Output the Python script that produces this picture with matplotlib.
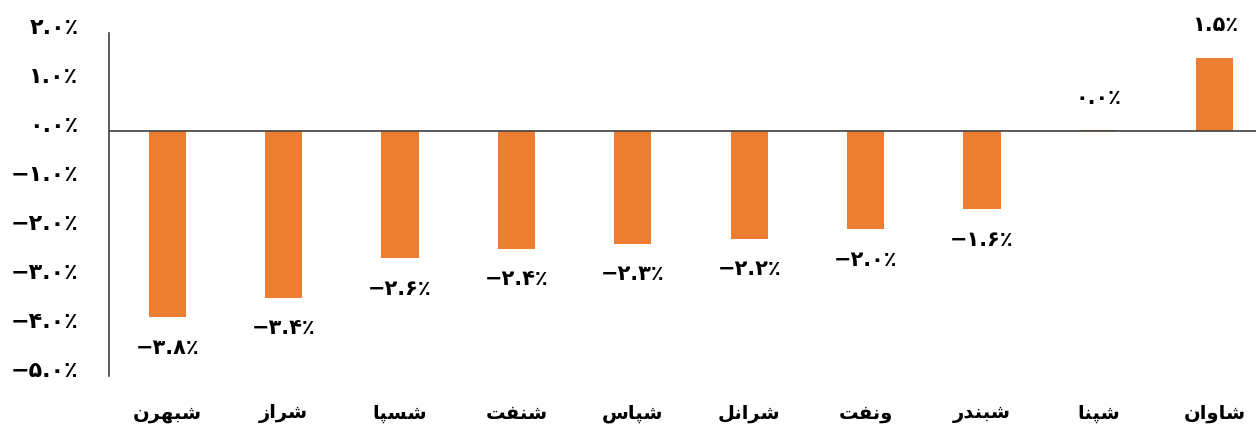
import numpy as np
import matplotlib
matplotlib.use('Agg')
import matplotlib.pyplot as plt
from matplotlib.transforms import ScaledTranslation

# data
names = ['شبهرن', 'شراز', 'شسپا', 'شنفت', 'شپاس', 'شرانل', 'ونفت', 'شبندر', 'شپنا', 'شاوان']
values = [-3.8, -3.4, -2.6, -2.4, -2.3, -2.2, -2.0, -1.6, 0.02, 1.5]
shown = [-3.8, -3.4, -2.6, -2.4, -2.3, -2.2, -2.0, -1.6, 0.0, 1.5]
yticks = [2, 1, 0, -1, -2, -3, -4, -5]

# presentation forms: isolated, final, initial, medial
forms = {
    'ا': ('\uFE8D', '\uFE8E'),
    'د': ('\uFEA9', '\uFEAA'),
    'ر': ('\uFEAD', '\uFEAE'),
    'ز': ('\uFEAF', '\uFEB0'),
    'و': ('\uFEED', '\uFEEE'),
    'ب': ('\uFE8F', '\uFE90', '\uFE91', '\uFE92'),
    'ت': ('\uFE95', '\uFE96', '\uFE97', '\uFE98'),
    'س': ('\uFEB1', '\uFEB2', '\uFEB3', '\uFEB4'),
    'ش': ('\uFEB5', '\uFEB6', '\uFEB7', '\uFEB8'),
    'ف': ('\uFED1', '\uFED2', '\uFED3', '\uFED4'),
    'ل': ('\uFEDD', '\uFEDE', '\uFEDF', '\uFEE0'),
    'ن': ('\uFEE5', '\uFEE6', '\uFEE7', '\uFEE8'),
    'ه': ('\uFEE9', '\uFEEA', '\uFEEB', '\uFEEC'),
    'پ': ('\uFB56', '\uFB57', '\uFB58', '\uFB59'),
}


def shape(word):
    out = []
    for i, c in enumerate(word):
        prev = word[i - 1] if i > 0 else None
        jp = prev is not None and len(forms[prev]) == 4
        jn = i < len(word) - 1 and len(forms[c]) == 4
        f = forms[c]
        if jp and jn:
            out.append(f[3])
        elif jp:
            out.append(f[1])
        elif jn:
            out.append(f[2])
        else:
            out.append(f[0])
    return ''.join(reversed(out))


fa_digits = '۰۱۲۳۴۵۶۷۸۹'


def fa_pct(v):
    s = '%.1f' % abs(v)
    s = ''.join(fa_digits[int(ch)] if ch.isdigit() else ch for ch in s)
    return ('\u2212' if v < 0 else '') + s + '٪'


plt.rcParams['font.family'] = ['DejaVu Sans']
plt.rcParams['font.weight'] = 'bold'

fig = plt.figure(figsize=(12.56, 4.30), dpi=100)
ax = fig.add_axes([109 / 1256, 54 / 430, 1147 / 1256, 343 / 430])

x = np.arange(len(names))
ax.bar(x, values, width=0.32, color='#ED7D31')
ax.axhline(0, color='#404040', lw=1.2)

for i, (v, s) in enumerate(zip(values, shown)):
    if s < 0:
        ax.text(i, v - 0.42, fa_pct(s), ha='center', va='top', fontsize=15, fontweight='bold')
    else:
        ax.text(i, v + 0.45, fa_pct(s), ha='center', va='bottom', fontsize=15, fontweight='bold')

ax.set_ylim(-5, 2)
ax.set_xlim(-0.5, 9.354)
ax.set_yticks(yticks)
ax.set_yticklabels([fa_pct(t) for t in yticks], fontsize=16, fontweight='bold')
ax.set_xticks(x)
ax.set_xticklabels([shape(n) for n in names], fontsize=14, fontweight='bold')
ax.tick_params(axis='y', length=0, pad=22)
ax.tick_params(axis='x', length=0, pad=20)
for lab in ax.get_yticklabels():
    lab.set_transform(lab.get_transform() + ScaledTranslation(0, 5 / 72, fig.dpi_scale_trans))
for sp in ['top', 'right', 'bottom']:
    ax.spines[sp].set_visible(False)
ax.spines['left'].set_color('#404040')
ax.spines['left'].set_linewidth(1.2)

fig.savefig('out.png', dpi=100)
